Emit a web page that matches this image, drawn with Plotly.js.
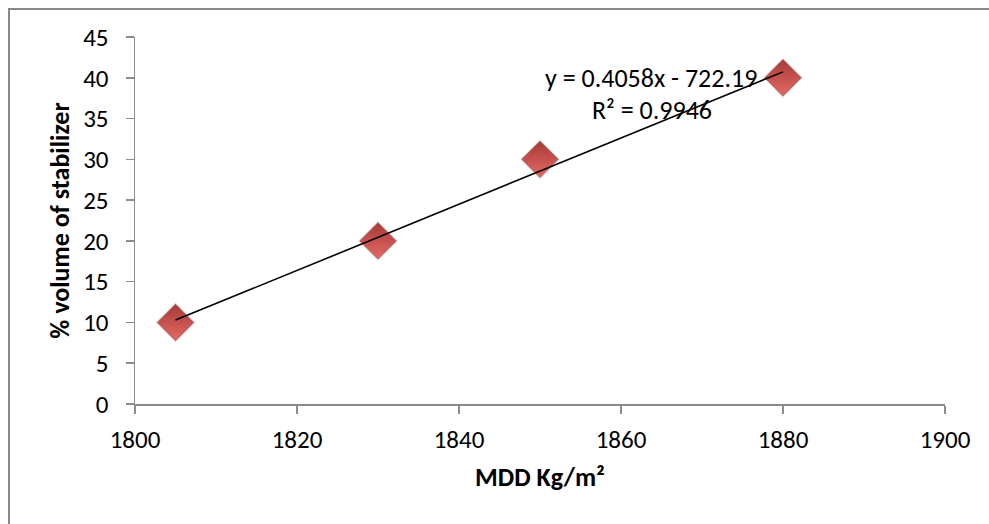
<!DOCTYPE html>
<html>
<head>
<meta charset="utf-8">
<script src="https://cdn.plot.ly/plotly-3.0.1.min.js"></script>
<style>
  html, body { margin: 0; padding: 0; background: #fff; }
  #wrap { position: relative; width: 989px; height: 524px; overflow: hidden; }
  #frame { position: absolute; left: 8px; top: 8px; width: 1000px; height: 600px;
           border-left: 2px solid #898989; border-top: 2px solid #898989; }
  #chart { position: absolute; left: 0; top: 0; width: 989px; height: 524px; }
</style>
</head>
<body>
<div id="wrap">
  <div id="frame"></div>
  <div id="chart"></div>
</div>
<script>
// Data
const mdd = [1805, 1830, 1850, 1880];          // MDD Kg/m²
const stabilizer = [10, 20, 30, 40];            // % volume of stabilizer
const xTicks = [1800, 1820, 1840, 1860, 1880, 1900];
const yTicks = [0, 5, 10, 15, 20, 25, 30, 35, 40, 45];
const eqText = "y = 0.4058x - 722.19";
const r2Text = "R² = 0.9946";

// Linear least-squares trendline computed from the data
const n = mdd.length;
const mx = mdd.reduce((a, b) => a + b, 0) / n;
const my = stabilizer.reduce((a, b) => a + b, 0) / n;
let sxy = 0, sxx = 0;
for (let i = 0; i < n; i++) { sxy += (mdd[i] - mx) * (stabilizer[i] - my); sxx += (mdd[i] - mx) ** 2; }
const slope = sxy / sxx, intercept = my - slope * mx;
const trendX = [Math.min(...mdd), Math.max(...mdd)];
const trendY = trendX.map(x => slope * x + intercept);

const FONT = "Carlito, Calibri, Lato, 'Open Sans', sans-serif";

const traces = [
  {
    x: mdd, y: stabilizer, type: "scatter", mode: "markers",
    marker: { symbol: "diamond", size: 31, color: "rgba(0,0,0,0.12)", line: { width: 0 } },
    hoverinfo: "skip", showlegend: false
  },
  {
    x: mdd, y: stabilizer, type: "scatter", mode: "markers",
    marker: { symbol: "diamond", size: 28, color: "#a83a37",
              gradient: { type: "vertical", color: "#e36a66" },
              line: { width: 0.5, color: "#9a3431" } },
    showlegend: false
  },
  {
    x: trendX, y: trendY, type: "scatter", mode: "lines",
    line: { color: "#000", width: 1.6 }, showlegend: false
  }
];

const axisCommon = {
  showgrid: false, zeroline: false, showline: true, linecolor: "#8c8c8c", linewidth: 1.5,
  ticks: "outside", ticklen: 8, tickwidth: 1.5, tickcolor: "#8c8c8c",
  tickfont: { family: FONT, size: 25, color: "#000" }
};

const layout = {
  width: 989, height: 524,
  paper_bgcolor: "rgba(0,0,0,0)", plot_bgcolor: "rgba(0,0,0,0)",
  margin: { l: 135, r: 44, t: 37, b: 120 },
  font: { family: FONT, color: "#000" },
  xaxis: Object.assign({}, axisCommon, {
    range: [1800, 1900], tickvals: xTicks, ticktext: xTicks.map(String),
    ticklabelstandoff: 4,
    title: { text: "<b>MDD Kg/m²</b>", font: { family: FONT, size: 26 }, standoff: 14 }
  }),
  yaxis: Object.assign({}, axisCommon, {
    range: [0, 45], tickvals: yTicks, ticktext: yTicks.map(String),
    ticklabelstandoff: 12,
    title: { text: "<b>% volume of stabilizer</b>", font: { family: FONT, size: 26 }, standoff: 6 }
  }),
  annotations: [
    { xref: "paper", yref: "paper", x: 0.637, y: 0.888, text: eqText, showarrow: false,
      xanchor: "center", yanchor: "middle", font: { family: FONT, size: 26, color: "#000" } },
    { xref: "paper", yref: "paper", x: 0.638, y: 0.801, text: r2Text, showarrow: false,
      xanchor: "center", yanchor: "middle", font: { family: FONT, size: 26, color: "#000" } }
  ]
};

Plotly.newPlot("chart", traces, layout, { displayModeBar: false, staticPlot: true });
</script>
</body>
</html>
